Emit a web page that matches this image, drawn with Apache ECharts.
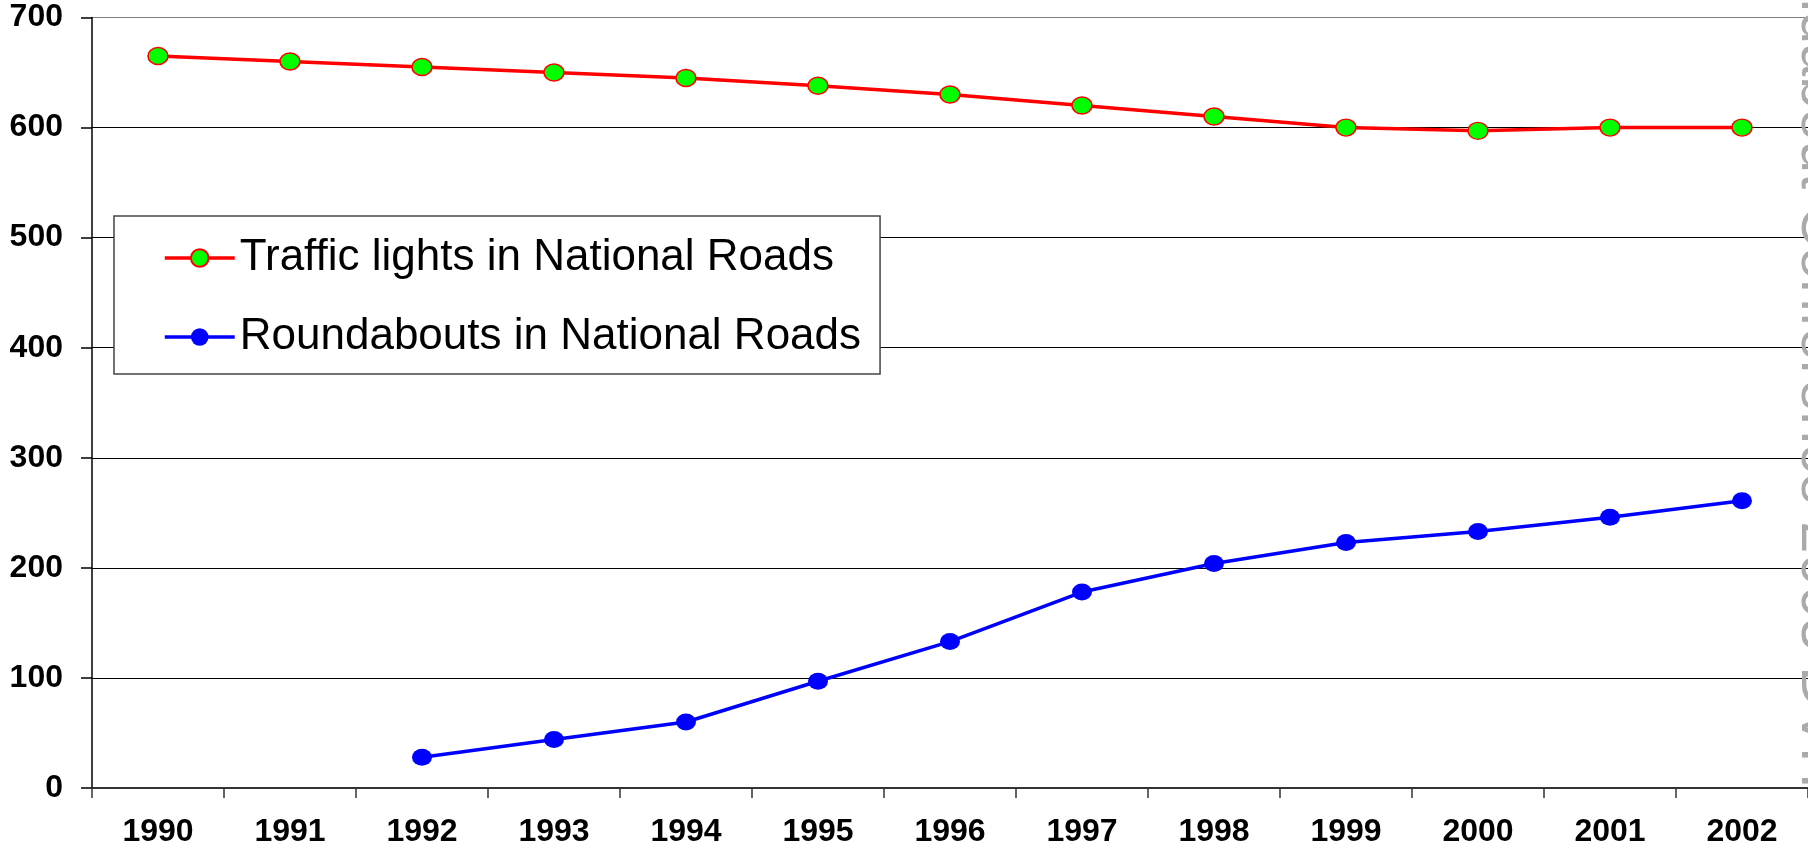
<!DOCTYPE html>
<html>
<head>
<meta charset="utf-8">
<script src="https://cdn.jsdelivr.net/npm/echarts@6/dist/echarts.min.js"></script>
<style>
    html, body { margin: 0; padding: 0; background: #fff; }
    #chart { width: 1808px; height: 849px; }
</style>
</head>
<body>
<div id="chart"></div>
<script>
const years = ['1990', '1991', '1992', '1993', '1994', '1995', '1996', '1997', '1998', '1999', '2000', '2001', '2002'];
const trafficLights = [665, 660, 655, 650, 645, 638, 630, 620, 610, 600, 597, 600, 600];
const roundabouts = [null, null, 28, 44, 60, 97, 133, 178, 204, 223, 233, 246, 261];
const yTicks = [0, 100, 200, 300, 400, 500, 600, 700];

const chart = echarts.init(document.getElementById('chart'));

const labelFont = { fontFamily: 'Liberation Sans, Arial, sans-serif', fontWeight: 'bold', fontSize: 32, color: '#000' };

const option = {
    animation: false,
    backgroundColor: '#fff',
    grid: {
        left: 92,
        top: 17.5,
        right: -17,
        bottom: 61
    },
    legend: {
        orient: 'vertical',
        left: 114,
        top: 216,
        padding: [19, 19, 14, 49],
        backgroundColor: '#fff',
        borderColor: '#444',
        borderWidth: 1.5,
        itemWidth: 70,
        itemHeight: 22,
        itemGap: 33,
        lineStyle: { width: 3.5 },
        textStyle: {
            fontFamily: 'Liberation Sans, Arial, sans-serif',
            fontSize: 44,
            lineHeight: 46,
            color: '#000'
        },
        data: ['Traffic lights in National Roads', 'Roundabouts in National Roads']
    },
    xAxis: {
        type: 'category',
        data: years,
        boundaryGap: true,
        axisLine: { lineStyle: { color: '#333', width: 2 } },
        axisTick: { show: true, length: 10, lineStyle: { color: '#333', width: 1.5 } },
        axisLabel: Object.assign({ margin: 28 }, labelFont),
        splitLine: { show: false }
    },
    yAxis: {
        type: 'value',
        min: yTicks[0],
        max: yTicks[yTicks.length - 1],
        interval: 100,
        axisLine: { show: true, lineStyle: { color: '#000', width: 1.5 } },
        axisTick: { show: true, length: 11, lineStyle: { color: '#000', width: 1.5 } },
        axisLabel: Object.assign({ margin: 29 }, labelFont),
        splitLine: {
            show: true,
            lineStyle: {
                color: ['#000', '#000', '#000', '#000', '#000', '#000', '#000', '#808080'],
                width: 1.2
            }
        }
    },
    series: [
        {
            name: 'Traffic lights in National Roads',
            type: 'line',
            data: trafficLights,
            symbol: 'circle',
            symbolSize: [20, 17],
            lineStyle: { color: '#ff0000', width: 3.5 },
            itemStyle: { color: '#00ff00', borderColor: '#ff0000', borderWidth: 1.5 },
            z: 3
        },
        {
            name: 'Roundabouts in National Roads',
            type: 'line',
            data: roundabouts,
            symbol: 'circle',
            symbolSize: [20, 17],
            connectNulls: false,
            lineStyle: { color: '#0000ff', width: 3.5 },
            itemStyle: { color: '#0000ff', borderColor: '#0000ff', borderWidth: 0 },
            z: 3
        }
    ],
    graphic: [
        {
            type: 'text',
            x: 1789,
            y: -127,
            rotation: -Math.PI / 2,
            z: 10,
            style: {
                text: 'Roundabout Conference 2003 DVIT',
                fontFamily: 'Liberation Sans, Arial, sans-serif',
                fontSize: 58,
                fill: '#aaaaaa',
                textAlign: 'left',
                textVerticalAlign: 'bottom'
            }
        }
    ]
};

chart.setOption(option);

window.addEventListener('resize', function () {
    chart.resize();
});
</script>
</body>
</html>
